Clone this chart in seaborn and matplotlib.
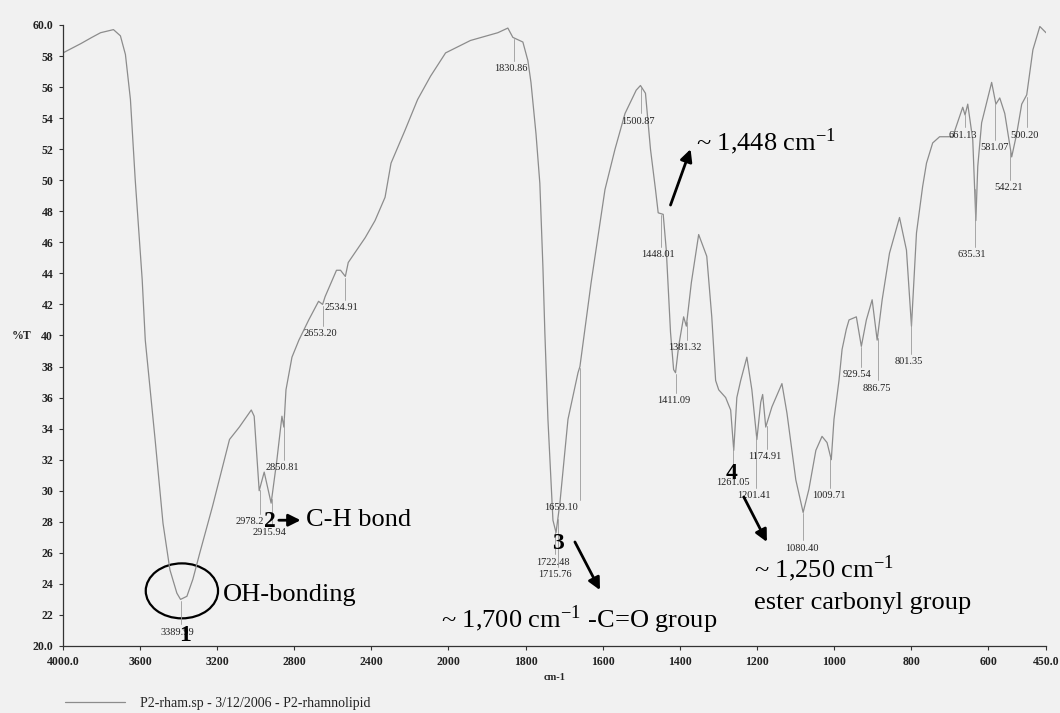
import numpy as np
import pandas as pd
import matplotlib.pyplot as plt
import seaborn as sns
from matplotlib.patches import Ellipse
from matplotlib.ticker import FuncFormatter

# IR spectrum (wavenumber cm-1, %T)
wavenumber = [4000, 3907, 3850, 3805, 3738, 3702, 3676, 3650, 3625, 3589, 3573, 3522,
              3481, 3445, 3409, 3390, 3357, 3326, 3290, 3224, 3136, 3085, 3023, 3008,
              2982, 2956, 2920, 2890, 2864, 2854, 2843, 2812, 2776, 2725, 2674, 2653,
              2640, 2581, 2560, 2535, 2520, 2432, 2381, 2329, 2298, 2226, 2160, 2093,
              2015, 1943, 1872, 1846, 1833, 1807, 1794, 1786, 1773, 1763, 1755, 1750,
              1742, 1729, 1721, 1711, 1690, 1664, 1659, 1630, 1594, 1568, 1542, 1513,
              1502, 1489, 1476, 1463, 1456, 1443, 1435, 1424, 1416, 1411, 1403, 1390,
              1383, 1370, 1351, 1330, 1317, 1307, 1299, 1281, 1268, 1260, 1252, 1242,
              1226, 1213, 1200, 1190, 1185, 1177, 1161, 1135, 1122, 1099, 1080, 1065,
              1047, 1031, 1018, 1007, 1000, 987, 979, 968, 961, 942, 929, 916, 901,
              888, 875, 856, 830, 812, 799, 786, 770, 760, 744, 726, 692, 666, 660,
              653, 640, 632, 627, 617, 591, 580, 570, 557, 539, 526, 513, 500, 484,
              466, 450]
transmittance = [58.2, 58.8, 59.2, 59.5, 59.7, 59.3, 58.1, 55.2, 50.0, 43.6, 39.7, 33.3,
                 27.9, 24.9, 23.4, 23.0, 23.2, 24.3, 26.0, 29.0, 33.3, 34.1, 35.2, 34.8,
                 30.0, 31.2, 29.2, 32.0, 34.8, 34.1, 36.5, 38.6, 39.7, 41.0, 42.2, 42.0,
                 42.5, 44.2, 44.2, 43.8, 44.7, 46.3, 47.4, 48.9, 51.1, 53.2, 55.2, 56.7,
                 58.2, 59.0, 59.5, 59.8, 59.2, 58.9, 57.7, 56.3, 53.0, 49.8, 44.4, 40.2,
                 34.6, 28.1, 27.3, 29.2, 34.6, 37.6, 38.0, 43.4, 49.4, 52.0, 54.3, 55.8,
                 56.1, 55.6, 52.0, 49.4, 47.9, 47.8, 45.5, 40.2, 37.8, 37.6, 39.3, 41.2,
                 40.6, 43.4, 46.5, 45.1, 41.2, 37.1, 36.5, 36.0, 35.2, 32.6, 36.0, 37.1,
                 38.6, 36.5, 33.3, 35.7, 36.2, 34.1, 35.4, 36.9, 35.0, 30.7, 28.6, 30.1,
                 32.6, 33.5, 33.1, 32.0, 34.6, 37.1, 39.1, 40.4, 41.0, 41.2, 39.3, 41.0,
                 42.3, 39.7, 42.3, 45.3, 47.6, 45.5, 40.6, 46.6, 49.6, 51.1, 52.4, 52.8,
                 52.8, 54.7, 54.2, 54.9, 52.6, 47.4, 50.9, 53.7, 56.3, 54.9, 55.3, 54.3,
                 51.5, 53.0, 54.9, 55.5, 58.4, 59.9, 59.5]

peak_labels = ['3389.99', '2978.2', '2915.94', '2850.81', '2653.20', '2534.91', '1830.86',
               '1659.10', '1722.48', '1715.76', '1500.87', '1448.01', '1411.09', '1381.32',
               '1261.05', '1201.41', '1174.91', '1080.40', '1009.71', '929.54', '886.75',
               '801.35', '661.13', '635.31', '581.07', '542.21', '500.20']
# where each peak label text sits (wavenumber, %T)
label_pos = [(3404, 20.9), (3030, 28.0), (2931, 27.3), (2864, 31.5), (2663, 40.1),
             (2555, 41.8), (1839, 57.2), (1708, 28.9), (1729, 25.4), (1724, 24.6),
             (1508, 53.8), (1456, 45.2), (1416, 35.8), (1388, 39.2), (1263, 30.5),
             (1208, 29.7), (1180, 32.2), (1083, 26.3), (1013, 29.7), (940, 37.5),
             (890, 36.6), (805, 38.3), (666, 52.9), (643, 45.2), (583, 52.1),
             (547, 49.5), (507, 52.9)]

x_ticks = [4000, 3600, 3200, 2800, 2400, 2000, 1800, 1600, 1400, 1200, 1000, 800, 600, 450]
x_tick_labels = ['4000.0', '3600', '3200', '2800', '2400', '2000', '1800', '1600', '1400',
                 '1200', '1000', '800', '600', '450.0']

df = pd.DataFrame({'wavenumber': wavenumber, 'T': transmittance})

sns.set_style('ticks')
plt.rcParams['font.family'] = ['Liberation Serif', 'DejaVu Serif']
plt.rcParams['mathtext.fontset'] = 'stix'

bg = '#f1f1f1'
fig = plt.figure(figsize=(10.6, 7.13), dpi=100, facecolor=bg)
ax = fig.add_axes([0.0594, 0.094, 0.9274, 0.871], facecolor=bg)


# spectrometer axis: 2 cm-1 per unit above 2000, 1 below
def fwd(x):
    x = np.asarray(x, dtype=float)
    return np.where(x > 2000, 2000 + (x - 2000) / 2, x)


def inv(y):
    y = np.asarray(y, dtype=float)
    return np.where(y > 2000, 2000 + (y - 2000) * 2, y)


ax.set_xscale('function', functions=(fwd, inv))

sns.lineplot(data=df, x='wavenumber', y='T', ax=ax, color='#8c8c8c', lw=0.9,
             estimator=None, label='P2-rham.sp - 3/12/2006 - P2-rhamnolipid')

ax.set_xlim(4000, 450)
ax.set_ylim(20, 60)
ax.set_xticks(x_ticks)
ax.set_xticklabels(x_tick_labels)
ax.set_yticks(np.arange(20, 61, 2))
ax.yaxis.set_major_formatter(FuncFormatter(lambda v, _: f'{v:.1f}' if v in (20, 60) else f'{v:.0f}'))
ax.minorticks_off()
sns.despine(ax=ax)
for s in ['left', 'bottom']:
    ax.spines[s].set_color('#333333')
    ax.spines[s].set_linewidth(0.9)
ax.tick_params(length=3, width=0.8, color='#333333', labelsize=8.5, pad=4)
for lab in ax.get_xticklabels() + ax.get_yticklabels():
    lab.set_fontweight('bold')
    lab.set_color('#222222')

ax.set_xlabel('cm-1', fontsize=7.5, fontweight='bold', labelpad=4)
ax.set_ylabel('%T', fontsize=8.5, fontweight='bold', rotation=0)
ax.yaxis.set_label_coords(-0.042, 0.49)

# peak labels with their pick lines
wn_up = np.array(wavenumber[::-1], dtype=float)
t_up = np.array(transmittance[::-1], dtype=float)
for lab, (lx, ly) in zip(peak_labels, label_pos):
    pk = float(lab)
    tp = np.interp(pk, wn_up, t_up)
    if tp > ly + 0.6:
        ax.plot([pk, pk], [tp - 0.1, ly + 0.5], color='#9a9a9a', lw=0.6)
    ax.text(lx, ly, lab, fontsize=7.5, ha='center', va='center', color='#222222')

# hand annotations
big = dict(fontsize=19, color='black', va='center', ha='left')
num = dict(fontsize=17, fontweight='bold', color='black', ha='center', va='center')
arr = dict(arrowstyle='-|>', color='black', lw=2, mutation_scale=18, shrinkA=0, shrinkB=0)

ax.add_patch(Ellipse((3383, 23.55), 375, 3.54, fill=False, ec='black', lw=1.6))
ax.text(3172, 23.3, 'OH-bonding', **big)
ax.text(3368, 20.7, '1', **num)

ax.text(2926, 28.0, '2', **num)
ax.annotate('', xy=(2767, 28.1), xytext=(2880, 28.1), arrowprops=arr)
ax.text(2740, 28.1, 'C-H bond', **big)

ax.text(1716, 26.6, '3', **num)
ax.annotate('', xy=(1607, 23.6), xytext=(1672, 26.7), arrowprops=arr)
ax.text(2041, 21.7, r'~ 1,700 cm$^{\mathregular{-1}}$ -C=O group', **big)

ax.annotate('', xy=(1372, 52.0), xytext=(1424, 48.4), arrowprops=arr)
ax.text(1359, 52.5, r'~ 1,448 cm$^{\mathregular{-1}}$', **big)

ax.text(1265, 31.1, '4', **num)
ax.annotate('', xy=(1174, 26.7), xytext=(1234, 29.6), arrowprops=arr)
ax.text(1208, 25.0, r'~ 1,250 cm$^{\mathregular{-1}}$', **big)
ax.text(1208, 22.8, 'ester carbonyl group', **big)

leg = ax.legend(loc='center left', bbox_to_anchor=(0.0613, 0.014), bbox_transform=fig.transFigure,
                frameon=False, fontsize=10, handlelength=4.3, handletextpad=1.1,
                borderpad=0, borderaxespad=0)
for t in leg.get_texts():
    t.set_color('#222222')

fig.savefig('out.png', dpi=100, facecolor=bg)
